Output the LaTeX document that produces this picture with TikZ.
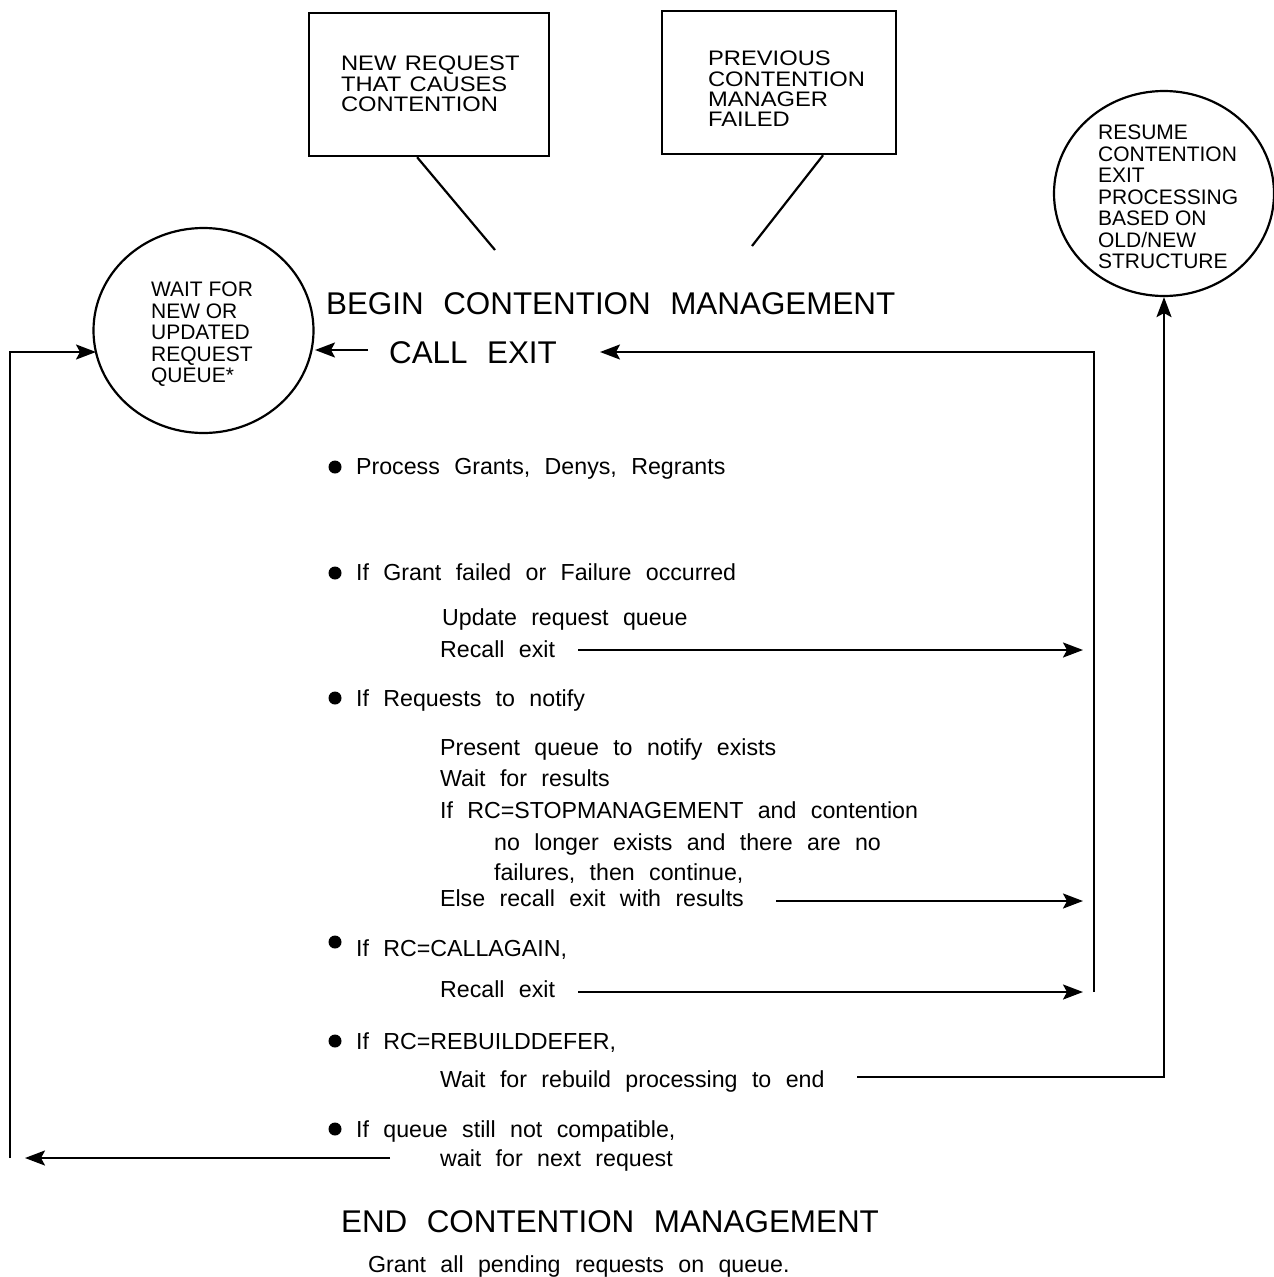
\documentclass[tikz,border=0pt]{standalone}
\usepackage{fontspec}
\setmainfont{Liberation Sans}
\newfontfamily\boxfont[FakeStretch=1.13]{Liberation Sans}
\usetikzlibrary{arrows.meta,shapes.geometric}
\newcommand\wsp{\spaceskip=0.62em plus 0.1em\relax}
\newcommand\bsp{\spaceskip=0.4em plus 0.1em\relax}
\begin{document}
\begin{tikzpicture}[x=1pt,y=-1pt,
  line width=2.2pt,
  body/.style={anchor=base west, inner sep=0pt, font=\fontsize{23.2}{27}\selectfont\wsp},
  head/.style={anchor=base west, inner sep=0pt, font=\fontsize{31.4}{36}\selectfont\wsp},
  captxt/.style={anchor=north west, inner sep=0pt, align=left, font=\fontsize{21}{21.5}\selectfont},
  boxtxt/.style={anchor=north west, inner sep=0pt, align=left, font=\boxfont\fontsize{21}{20.4}\selectfont\bsp},
  arr/.style={-{Stealth[length=20pt,width=15pt,inset=4pt]}},
  bul/.style={circle, fill=black, inner sep=0pt, minimum size=13pt},
  oval/.style={draw, ellipse, inner sep=0pt, minimum width=220, minimum height=205},
  bx/.style={draw, rectangle, inner sep=0pt, anchor=north west},
]
\useasboundingbox (0,0) rectangle (1274,1277);

% boxes
\node[bx, minimum width=240, minimum height=143] (b1) at (308,12) {};
\node[boxtxt] (b1t) at (340,55) {NEW REQUEST\\THAT CAUSES\\CONTENTION};
\node[bx, minimum width=234, minimum height=143] (b2) at (661,10) {};
\node[boxtxt] (b2t) at (707,50) {PREVIOUS\\CONTENTION\\MANAGER\\FAILED};
\coordinate (l1) at (495,250);
\coordinate (l2) at (752,246);
\draw ([xshift=-12]b1.south) -- (l1);
\draw ([xshift=44]b2.south) -- (l2);

% circles
\node[oval] (wc) at (203.5,330.5) {};
\node[captxt] (wct) at (150,281) {WAIT FOR\\NEW OR\\UPDATED\\REQUEST\\QUEUE*};
\node[oval] (rc) at (1164,193.5) {};
\node[captxt] (rct) at (1097,124) {RESUME\\CONTENTION\\EXIT\\PROCESSING\\BASED ON\\OLD/NEW\\STRUCTURE};

% headings
\node[head] (begin) at (325,314) {BEGIN CONTENTION MANAGEMENT};
\node[head] (callexit) at (388,363) {CALL EXIT};
\node[head] (endcm) at (340,1232) {END CONTENTION MANAGEMENT};
\node[body] (grant) at (367,1272) {Grant all pending requests on queue.};

% bullets
\node[bul] (k1) at (335,467) {};
\node[bul] (k2) at (335,573) {};
\node[bul] (k3) at (335,698) {};
\node[bul] (k4) at (335,942) {};
\node[bul] (k5) at (335,1041) {};
\node[bul] (k6) at (335,1129) {};

% body text
\node[body] (t1) at (355,474) {Process Grants, Denys, Regrants};
\node[body] (t2) at (355,580) {If Grant failed or Failure occurred};
\node[body] (t2a) at (441,625) {Update request queue};
\node[body] (t2b) at (439,657) {Recall exit};
\node[body] (t3) at (355,706) {If Requests to notify};
\node[body] (t3a) at (439,755) {Present queue to notify exists};
\node[body] (t3b) at (439,786) {Wait for results};
\node[body] (t3c) at (439,818) {If RC=STOPMANAGEMENT and contention};
\node[body] (t3d) at (493,850) {no longer exists and there are no};
\node[body] (t3e) at (493,880) {failures, then continue,};
\node[body] (t3f) at (439,906) {Else recall exit with results};
\node[body] (t4) at (355,956) {If RC=CALLAGAIN,};
\node[body] (t4a) at (439,997) {Recall exit};
\node[body] (t5) at (355,1049) {If RC=REBUILDDEFER,};
\node[body] (t5a) at (439,1087) {Wait for rebuild processing to end};
\node[body] (t6) at (355,1137) {If queue still not compatible,};
\node[body] (t6a) at (439,1166) {wait for next request};

% connector coordinates
\coordinate (ca1) at (368,350);
\coordinate (ca2) at (315,350);
\coordinate (rtop) at (1094,352);
\coordinate (rbot) at (1094,992);
\coordinate (ce) at (600,352);
\coordinate (s1) at (578,650);
\coordinate (e1) at (1083,650);
\coordinate (s2) at (776,901);
\coordinate (e2) at (1083,901);
\coordinate (s3) at (578,992);
\coordinate (e3) at (1083,992);
\coordinate (s4) at (857,1077);
\coordinate (c4) at (1164,1077);
\coordinate (s5) at (390,1158);
\coordinate (e5) at (25,1158);
\coordinate (lb) at (10,1158);
\coordinate (lt) at (10,352);
\coordinate (lend) at (96,352);

% connectors
\draw[arr] (ca1) -- (ca2);
\draw[arr] (rbot) -- (rtop) -- (ce);
\draw[arr] (s1) -- (e1);
\draw[arr] (s2) -- (e2);
\draw[arr] (s3) -- (e3);
\draw[arr] (s4) -- (c4) -- (rc.south);
\draw[arr] (s5) -- (e5);
\draw[arr] (lb) -- (lt) -- (lend);
\end{tikzpicture}
\end{document}
